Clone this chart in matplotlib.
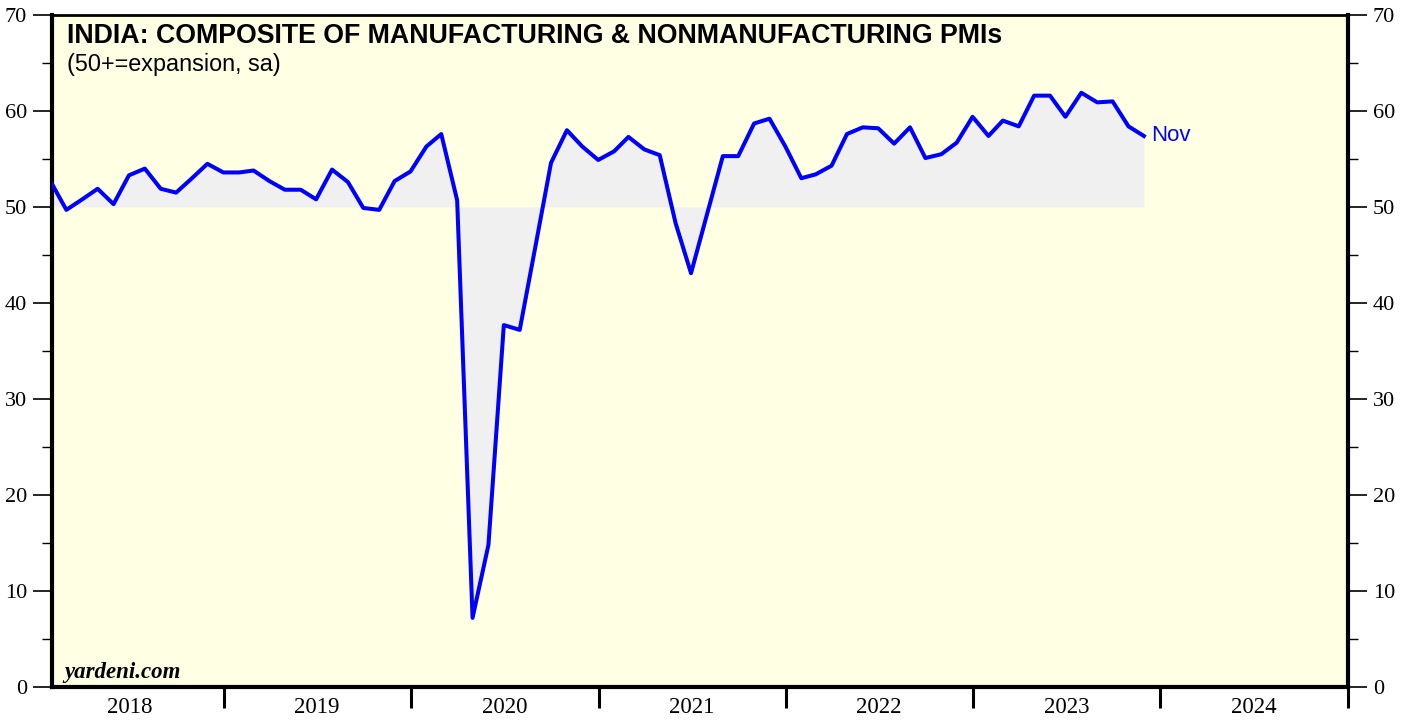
import matplotlib
matplotlib.use("Agg")
import matplotlib.pyplot as plt
import pandas as pd
import numpy as np
from matplotlib.ticker import MultipleLocator, NullFormatter, FixedLocator

# Monthly composite PMI, Jan 2018 - Nov 2023
start_month = "2018-01"
pmi = [
    52.4, 49.7, 50.8, 51.9, 50.3, 53.3, 54.0, 51.9, 51.5, 53.0, 54.5, 53.6,   # 2018
    53.6, 53.8, 52.7, 51.8, 51.8, 50.8, 53.9, 52.6, 49.9, 49.7, 52.7, 53.7,   # 2019
    56.3, 57.6, 50.7, 7.2, 14.8, 37.7, 37.2, 46.0, 54.6, 58.0, 56.3, 54.9,    # 2020
    55.8, 57.3, 56.0, 55.4, 48.3, 43.1, 49.2, 55.3, 55.3, 58.7, 59.2, 56.3,   # 2021
    53.0, 53.4, 54.3, 57.6, 58.3, 58.2, 56.6, 58.3, 55.1, 55.5, 56.7, 59.4,   # 2022
    57.4, 59.0, 58.4, 61.6, 61.6, 59.4, 61.9, 60.9, 61.0, 58.4, 57.4,         # 2023
]
years = [2018, 2019, 2020, 2021, 2022, 2023, 2024]
y_ticks = [0, 10, 20, 30, 40, 50, 60, 70]
title = "INDIA: COMPOSITE OF MANUFACTURING & NONMANUFACTURING PMIs"
subtitle = "(50+=expansion, sa)"
last_label = "Nov"

dates = pd.date_range(start_month + "-01", periods=len(pmi), freq="MS") + pd.offsets.MonthEnd(0)
vals = np.array(pmi)

fig = plt.figure(figsize=(14.08, 7.21), dpi=100)
ax = fig.add_axes([52 / 1408, 34 / 721, (1348 - 52) / 1408, (687 - 15) / 721])
ax.set_facecolor("#ffffe4")

ax.fill_between(dates, vals, 50, color="#f0f0f0", linewidth=0, zorder=1)
ax.plot(dates, vals, color="#0000ff", linewidth=2.9, zorder=3)

ax.set_ylim(0, 70)
ax.set_xlim(pd.Timestamp("2018-01-31"), pd.Timestamp("2025-01-01"))

# y axis ticks both sides
ax.yaxis.set_major_locator(FixedLocator(y_ticks))
ax.yaxis.set_minor_locator(MultipleLocator(5))
ax.tick_params(axis="y", which="both", direction="out", left=True, right=True,
               labelleft=True, labelright=True, length=14, width=1.2,
               labelsize=16, pad=4)
ax.tick_params(axis="y", which="minor", length=7, width=1.0)
for lbl in ax.get_yticklabels():
    lbl.set_fontfamily("Liberation Serif")

# x axis: year boundaries as ticks, labels centered
ax.set_xticks([pd.Timestamp(f"{y}-01-01") for y in years[1:]] + [pd.Timestamp("2025-01-01")])
ax.xaxis.set_major_formatter(NullFormatter())
ax.set_xticks([pd.Timestamp(f"{y}-07-02") for y in years], minor=True)
ax.set_xticklabels([str(y) for y in years], minor=True, fontfamily="Liberation Serif", fontsize=16.5)
ax.tick_params(axis="x", which="major", direction="out", length=15, width=2.2)
ax.tick_params(axis="x", which="minor", length=0, pad=7)

for side in ["left", "right", "bottom"]:
    ax.spines[side].set_linewidth(3)
ax.spines["top"].set_linewidth(2)

ax.text(0.0115, 0.988, title, transform=ax.transAxes, fontsize=19.3, fontweight="bold",
        fontfamily="Liberation Sans", va="top", ha="left")
ax.text(0.0115, 0.944, subtitle, transform=ax.transAxes, fontsize=16.8,
        fontfamily="Liberation Sans", va="top", ha="left")
ax.text(0.0095, 0.006, "yardeni.com", transform=ax.transAxes, fontsize=16.5, fontweight="bold",
        fontstyle="italic", fontfamily="Liberation Serif", va="bottom", ha="left")
ax.annotate(last_label, xy=(dates[-1], vals[-1]), xytext=(5, 0), textcoords="offset points",
            color="#0000ff", fontsize=16, fontfamily="Liberation Sans", va="center", ha="left")

fig.savefig("out.png", dpi=100, facecolor="white")
